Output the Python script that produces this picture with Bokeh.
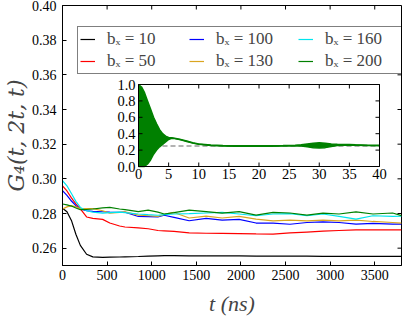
from bokeh.plotting import figure
from bokeh.models import (Range1d, FixedTicker, PrintfTickFormatter, Legend, LegendItem)
from bokeh.core.properties import value
from bokeh.embed import file_html
from bokeh.resources import INLINE

# ---------------- data ----------------
t_ns = [0, 50, 100, 150, 200, 270, 340, 450, 530, 640, 700, 850, 960, 1070, 1140,
        1250, 1420, 1610, 1790, 1980, 2170, 2360, 2550, 2740, 2920, 3100, 3290,
        3480, 3700, 3800]

g_b10 = [0.283, 0.281, 0.276, 0.268, 0.2616, 0.2565, 0.2550, 0.2547, 0.2548, 0.2549,
         0.2550, 0.2552, 0.2554, 0.2556, 0.2557, 0.2557, 0.2556, 0.2555, 0.2555, 0.2555,
         0.2554, 0.2554, 0.2554, 0.2554, 0.2553, 0.2553, 0.2553, 0.2553, 0.2553, 0.2553]
g_b50 = [0.296, 0.293, 0.289, 0.2855, 0.2826, 0.278, 0.2772, 0.2766, 0.2745, 0.2728,
         0.2722, 0.2717, 0.2712, 0.2702, 0.2700, 0.2697, 0.2688, 0.2686, 0.2685, 0.2684,
         0.2682, 0.2681, 0.2688, 0.2693, 0.2698, 0.2702, 0.2706, 0.2705, 0.2706, 0.2706]
g_b100 = [0.2932, 0.2905, 0.2872, 0.2845, 0.2826, 0.2816, 0.2812, 0.2810, 0.2808, 0.2806,
          0.2808, 0.2783, 0.2782, 0.2781, 0.2790, 0.2778, 0.2758, 0.2772, 0.2762, 0.2766,
          0.2745, 0.2744, 0.2738, 0.2748, 0.2752, 0.2748, 0.2739, 0.2743, 0.2739, 0.2739]
g_b130 = [0.2826, 0.2838, 0.2845, 0.2838, 0.2828, 0.2828, 0.2828, 0.2816, 0.2802, 0.2807,
          0.2809, 0.2791, 0.2787, 0.2783, 0.2795, 0.2806, 0.2774, 0.2785, 0.2774, 0.2783,
          0.2768, 0.2758, 0.2762, 0.2758, 0.2762, 0.2758, 0.2762, 0.2754, 0.2748, 0.2745]
g_b160 = [0.299, 0.296, 0.2915, 0.287, 0.2835, 0.2816, 0.2808, 0.2802, 0.2805, 0.2808,
          0.2805, 0.2797, 0.2793, 0.2790, 0.2793, 0.2797, 0.2799, 0.2803, 0.2806, 0.2797,
          0.2787, 0.2797, 0.2799, 0.2787, 0.2797, 0.2783, 0.2768, 0.2787, 0.2783, 0.2784]
g_b200 = [0.2855, 0.2850, 0.2843, 0.2832, 0.2822, 0.2823, 0.2826, 0.2832, 0.2835, 0.2826,
          0.2822, 0.2811, 0.2819, 0.2808, 0.2797, 0.2805, 0.2819, 0.2811, 0.2802, 0.2811,
          0.2791, 0.2806, 0.2803, 0.2791, 0.2802, 0.2797, 0.2809, 0.2797, 0.2803, 0.2788]

series_labels = ["bₓ = 10", "bₓ = 50", "bₓ = 100", "bₓ = 130", "bₓ = 160", "bₓ = 200"]
series_values = [g_b10, g_b50, g_b100, g_b130, g_b160, g_b200]
series_colors = ["black", "#ff0000", "#0000ff", "#daa520", "#00e5ee", "#008000"]

x_ticks = [0, 500, 1000, 1500, 2000, 2500, 3000, 3500]
y_ticks = [0.26, 0.28, 0.30, 0.32, 0.34, 0.36, 0.38, 0.40]
x_lim = [0, 3800]
y_lim = [0.25, 0.40]

# inset
inset_t = [0, 0.5, 1, 1.5, 2, 2.5, 3, 3.5, 4, 4.5, 5, 5.5, 6, 7, 8, 9, 10, 12, 14, 16,
           18, 20, 22, 24, 26, 27, 28, 29, 30, 31, 32, 33, 34, 35, 36, 38, 40]
inset_upper = [1.0, 0.97, 0.9, 0.8, 0.7, 0.6, 0.52, 0.45, 0.40, 0.37, 0.355, 0.35, 0.345,
               0.33, 0.31, 0.29, 0.275, 0.262, 0.256, 0.253, 0.252, 0.252, 0.253, 0.256,
               0.26, 0.265, 0.275, 0.285, 0.29, 0.285, 0.275, 0.27, 0.268, 0.268, 0.265,
               0.26, 0.258]
inset_lower = [0.0, 0.0, 0.0, 0.03, 0.08, 0.15, 0.2, 0.24, 0.27, 0.30, 0.33, 0.345, 0.34,
               0.325, 0.305, 0.285, 0.27, 0.256, 0.25, 0.247, 0.246, 0.246, 0.247, 0.25,
               0.252, 0.25, 0.24, 0.23, 0.225, 0.23, 0.245, 0.255, 0.26, 0.262, 0.26,
               0.255, 0.252]
inset_ref = [0.25, 0.25]
inset_xlim = [0, 40]
inset_ylim = [0.0, 1.0]
inset_xticks = [0, 5, 10, 15, 20, 25, 30, 35, 40]
inset_yticks = [0.0, 0.2, 0.4, 0.6, 0.8, 1.0]

# ---------------- layout constants ----------------
FW, FH = 339, 260
IN_L, IN_R, IN_T, IN_B = 76, 317, 79, 161
TICK = 4
SERIF = "Liberation Serif"

p = figure(frame_width=FW, frame_height=FH, output_backend="svg", toolbar_location=None,
           x_range=Range1d(*x_lim), y_range=Range1d(*y_lim),
           min_border_left=54, min_border_right=4, min_border_top=5, min_border_bottom=40)
p.background_fill_color = "white"
p.border_fill_color = "white"
p.outline_line_color = "black"
p.outline_line_width = 1
p.xgrid.visible = False
p.ygrid.visible = False

def style_axis(ax, ticks):
    ax.ticker = FixedTicker(ticks=ticks)
    ax.major_tick_in = TICK
    ax.major_tick_out = 0
    ax.minor_tick_line_color = None
    ax.axis_line_color = "black"
    ax.major_tick_line_color = "black"
    ax.major_label_text_font = SERIF
    ax.major_label_text_font_size = "14px"
    ax.major_label_text_color = "black"

xa = p.xaxis[0]
style_axis(xa, x_ticks)
xa.major_label_standoff = 4
xa.axis_label = "t (ns)"
xa.axis_label_text_font = SERIF
xa.axis_label_text_font_style = "italic"
xa.axis_label_text_font_size = "22px"
xa.axis_label_standoff = 8

ya = p.yaxis[0]
style_axis(ya, y_ticks)
ya.formatter = PrintfTickFormatter(format="%.2f")
ya.major_label_standoff = 6
ya.axis_label = "G₄(t, 2t, t)"
ya.axis_label_text_font = "DejaVu Serif"
ya.axis_label_text_font_style = "italic"
ya.axis_label_text_font_size = "22px"
ya.axis_label_standoff = 0

# inward ticks on the top and right edges of the main frame
mx_per_px = (x_lim[1] - x_lim[0]) / FW
my_per_px = (y_lim[1] - y_lim[0]) / FH
p.segment(x0=x_ticks, y0=[y_lim[1]] * len(x_ticks), x1=x_ticks,
          y1=[y_lim[1] - TICK * my_per_px] * len(x_ticks), line_color="black")
p.segment(x0=[x_lim[1]] * len(y_ticks), y0=y_ticks,
          x1=[x_lim[1] - TICK * mx_per_px] * len(y_ticks), y1=y_ticks, line_color="black")

# ---------------- main curves ----------------
items = []
for lab, vals, col in zip(series_labels, series_values, series_colors):
    r = p.line(t_ns, vals, line_color=col, line_width=1.2)
    items.append(LegendItem(label=lab, renderers=[r]))

legend = Legend(items=items, orientation="vertical", nrows=2, location=(15, 191),
                label_text_font=SERIF, label_text_font_size="17px",
                glyph_width=15, glyph_height=16, label_height=16, label_width=80,
                label_standoff=12, spacing=2, padding=2, margin=0,
                border_line_color="black", border_line_width=1,
                background_fill_color="white", background_fill_alpha=1.0)
p.add_layout(legend)

# ---------------- inset, drawn through its own ranges ----------------
ix_per_px = (inset_xlim[1] - inset_xlim[0]) / (IN_R - IN_L)
iy_per_px = (inset_ylim[1] - inset_ylim[0]) / (IN_B - IN_T)
p.extra_x_ranges = {"ix": Range1d(inset_xlim[0] - IN_L * ix_per_px,
                                  inset_xlim[1] + (FW - IN_R) * ix_per_px)}
p.extra_y_ranges = {"iy": Range1d(inset_ylim[0] - (FH - IN_B) * iy_per_px,
                                  inset_ylim[1] + IN_T * iy_per_px)}
kw = dict(x_range_name="ix", y_range_name="iy")

p.quad(left=[inset_xlim[0]], right=[inset_xlim[1]], bottom=[inset_ylim[0]], top=[inset_ylim[1]],
       fill_color="white", line_color=None, **kw)
p.line(inset_xlim, inset_ref, line_color="#999999", line_width=1.5, line_dash="5 3", **kw)
p.varea(x=inset_t, y1=inset_lower, y2=inset_upper, fill_color="#008000", **kw)
p.line(inset_t, inset_upper, line_color="#008000", line_width=1.5, **kw)
p.line(inset_t, inset_lower, line_color="#008000", line_width=1.5, **kw)
p.quad(left=[inset_xlim[0]], right=[inset_xlim[1]], bottom=[inset_ylim[0]], top=[inset_ylim[1]],
       fill_color=None, line_color="black", line_width=1, **kw)

tx = TICK * ix_per_px
ty = TICK * iy_per_px
p.segment(x0=inset_xticks, y0=[inset_ylim[0]] * len(inset_xticks),
          x1=inset_xticks, y1=[inset_ylim[0] + ty] * len(inset_xticks), line_color="black", **kw)
p.segment(x0=inset_xticks, y0=[inset_ylim[1]] * len(inset_xticks),
          x1=inset_xticks, y1=[inset_ylim[1] - ty] * len(inset_xticks), line_color="black", **kw)
p.segment(x0=[inset_xlim[0]] * len(inset_yticks), y0=inset_yticks,
          x1=[inset_xlim[0] + tx] * len(inset_yticks), y1=inset_yticks, line_color="black", **kw)
p.segment(x0=[inset_xlim[1]] * len(inset_yticks), y0=inset_yticks,
          x1=[inset_xlim[1] - tx] * len(inset_yticks), y1=inset_yticks, line_color="black", **kw)

p.text(x=inset_xticks, y=[inset_ylim[0]] * len(inset_xticks),
       text=[str(v) for v in inset_xticks], text_align="center", text_baseline="top",
       y_offset=2, text_font=value(SERIF), text_font_size="14.5px", text_color="black", **kw)
p.text(x=[inset_xlim[0]] * len(inset_yticks), y=inset_yticks,
       text=["%.1f" % v for v in inset_yticks], text_align="right", text_baseline="middle",
       x_offset=-3, text_font=value(SERIF), text_font_size="14.5px", text_color="black", **kw)

open("out.html", "w").write(file_html(p, INLINE))
